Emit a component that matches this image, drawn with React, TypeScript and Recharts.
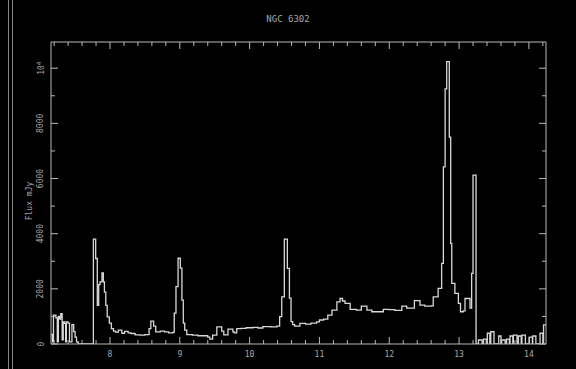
import { Line, LineChart, XAxis, YAxis } from "recharts";

// NGC 6302 spectrum, wavelength (um) vs flux (mJy)
const blueEdgeNoise: [number, number][] = [
  [7.155, 350], [7.175, 80], [7.19, 1050], [7.225, 950], [7.245, 80],
  [7.26, 1000], [7.28, 900], [7.295, 1100], [7.315, 150], [7.33, 800],
  [7.35, 750], [7.365, 80], [7.375, 800], [7.4, 760], [7.42, 80],
  [7.455, 700], [7.48, 450], [7.5, 250], [7.52, 80], [7.545, 0],
];

const lines77to9: [number, number][] = [
  [7.762, 3800], [7.795, 3100], [7.818, 1400], [7.838, 2150], [7.857, 2250],
  [7.885, 2580], [7.905, 2250], [7.92, 1880], [7.94, 1400], [7.96, 980],
  [7.99, 760], [8.02, 560], [8.05, 470], [8.08, 430], [8.12, 500],
  [8.17, 390], [8.21, 460], [8.26, 400], [8.3, 380], [8.36, 330],
  [8.43, 320], [8.5, 340], [8.56, 560], [8.585, 830], [8.625, 650],
  [8.655, 440], [8.72, 470], [8.78, 440], [8.84, 400], [8.9, 420],
  [8.92, 1120], [8.945, 2080], [8.975, 3110], [9.007, 2750], [9.03, 1590],
  [9.05, 760], [9.07, 500], [9.1, 340], [9.18, 320], [9.26, 300],
  [9.34, 300], [9.4, 250], [9.43, 180], [9.47, 320], [9.53, 620],
  [9.6, 470], [9.63, 330], [9.69, 540], [9.76, 440], [9.78, 400],
];

const lines10to12: [number, number][] = [
  [9.815, 560], [9.88, 570], [9.95, 590], [10.05, 600], [10.12, 580],
  [10.19, 630], [10.3, 620], [10.39, 650], [10.43, 990], [10.46, 1710],
  [10.497, 3800], [10.54, 2740], [10.57, 1665], [10.593, 810], [10.617, 700],
  [10.645, 650], [10.72, 750], [10.8, 720], [10.88, 760], [10.96, 800],
  [11.0, 870], [11.06, 900], [11.12, 1050], [11.18, 1230], [11.25, 1530],
  [11.295, 1650], [11.33, 1560], [11.367, 1470], [11.44, 1255], [11.53, 1230],
  [11.6, 1375], [11.68, 1230], [11.75, 1170], [11.84, 1170], [11.915, 1255],
  [11.99, 1250], [12.08, 1220], [12.18, 1375], [12.25, 1300], [12.36, 1570],
  [12.44, 1410], [12.51, 1375], [12.6, 1380],
];

const neonLines: [number, number][] = [
  [12.63, 1710], [12.7, 2015], [12.75, 2920], [12.775, 6420], [12.8, 9250],
  [12.823, 10240], [12.86, 7500], [12.88, 3645], [12.895, 2200], [12.94, 1835],
  [12.99, 1470], [13.02, 1170], [13.06, 1200], [13.085, 1650], [13.157, 1300],
  [13.18, 2560], [13.2, 6120], [13.243, 0],
];

const redEdgeNoise: [number, number][] = [
  [13.277, 145], [13.33, 0], [13.35, 180], [13.39, 0], [13.405, 390],
  [13.44, 0], [13.454, 445], [13.5, 0], [13.568, 290], [13.6, 0],
  [13.61, 145], [13.66, 0], [13.68, 180], [13.72, 0], [13.73, 290],
  [13.77, 0], [13.778, 325], [13.83, 0], [13.85, 290], [13.89, 0],
  [13.9, 325], [13.95, 0], [14.007, 250], [14.05, 0], [14.055, 290],
  [14.1, 0], [14.16, 390], [14.2, 0], [14.21, 690], [14.245, 690],
];

const xMajor = [8, 9, 10, 11, 12, 13, 14];
const xTicks = Array.from({ length: 36 }, (_, i) => +(7.2 + i * 0.2).toFixed(1));
const yTicks = [0, 1000, 2000, 3000, 4000, 5000, 6000, 7000, 8000, 9000, 10000];
const yLabelled = [0, 2000, 4000, 6000, 8000, 10000];

const data = [...blueEdgeNoise, ...lines77to9, ...lines10to12, ...neonLines, ...redEdgeNoise].map(
  ([w, f]) => ({ w, f })
);

const AXIS = "#b8b8b8";
const TEXT = "#a8a8a8";
const FONT = "'DejaVu Sans Mono', monospace";

const isMajorX = (v: number) => xMajor.some(m => Math.abs(m - v) < 1e-6);

const BottomTick = ({ x, y, payload }: any) => {
  const major = isMajorX(payload.value);
  return (
    <g>
      <line x1={x} y1={y} x2={x} y2={y - (major ? 7 : 4)} stroke={AXIS} />
      {major && (
        <text x={x} y={y + 13} textAnchor="middle" fill={TEXT} fontSize={8} fontFamily={FONT}>
          {Math.round(payload.value)}
        </text>
      )}
    </g>
  );
};

const TopTick = ({ x, y, payload }: any) => {
  const major = isMajorX(payload.value);
  return <line x1={x} y1={y} x2={x} y2={y + (major ? 7 : 4)} stroke={AXIS} />;
};

const LeftTick = ({ x, y, payload }: any) => {
  const v = payload.value;
  const labelled = yLabelled.includes(v);
  const tx = x - 10;
  return (
    <g>
      <line x1={x} y1={y} x2={x + (labelled ? 7 : 4)} y2={y} stroke={AXIS} />
      {labelled && (
        <text
          x={tx}
          y={y}
          transform={`rotate(-90, ${tx}, ${y})`}
          textAnchor="middle"
          dominantBaseline="central"
          fill={TEXT}
          fontSize={8}
          fontFamily={FONT}
        >
          {v === 10000 ? (
            <>
              <tspan>10</tspan>
              <tspan dy={-3} fontSize={6}>4</tspan>
            </>
          ) : (
            v
          )}
        </text>
      )}
    </g>
  );
};

const RightTick = ({ x, y, payload }: any) => {
  const labelled = yLabelled.includes(payload.value);
  return <line x1={x} y1={y} x2={x - (labelled ? 7 : 4)} y2={y} stroke={AXIS} />;
};

const FluxLabel = ({ viewBox }: any) => {
  const lx = viewBox.x + 18;
  const ly = viewBox.y + viewBox.height / 2 + 8;
  return (
    <text
      x={lx}
      y={ly}
      transform={`rotate(-90, ${lx}, ${ly})`}
      textAnchor="middle"
      dominantBaseline="central"
      fill={TEXT}
      fontSize={8}
      fontFamily={FONT}
    >
      Flux  mJy
    </text>
  );
};

export default function App() {
  return (
    <div style={{ position: "absolute", left: 0, top: 0, width: 576, height: 369, background: "#000" }}>
      <div style={{ position: "absolute", left: 8, top: 0, width: 1, height: 369, background: "#888" }} />
      <div style={{ position: "absolute", left: 12, top: 0, width: 1, height: 369, background: "#888" }} />
      <div
        style={{
          position: "absolute",
          left: 0,
          width: 576,
          top: 14,
          textAlign: "center",
          color: TEXT,
          fontSize: 9,
          fontFamily: FONT,
        }}
      >
        NGC 6302
      </div>
      <LineChart
        width={576}
        height={369}
        data={data}
        margin={{ top: 41, right: 29, bottom: 0, left: 11 }}
        style={{ position: "absolute", left: 0, top: 0 }}
      >
        <XAxis
          xAxisId="bottom"
          dataKey="w"
          type="number"
          domain={[7.155, 14.245]}
          allowDataOverflow
          ticks={xTicks}
          interval={0}
          height={25}
          tickSize={0}
          tickMargin={0}
          tickLine={false}
          axisLine={{ stroke: AXIS }}
          tick={<BottomTick />}
        />
        <XAxis
          xAxisId="top"
          orientation="top"
          dataKey="w"
          type="number"
          domain={[7.155, 14.245]}
          allowDataOverflow
          ticks={xTicks}
          interval={0}
          height={1}
          tickSize={0}
          tickMargin={0}
          tickLine={false}
          axisLine={{ stroke: AXIS }}
          tick={<TopTick />}
        />
        <YAxis
          yAxisId="left"
          type="number"
          domain={[0, 10950]}
          allowDataOverflow
          ticks={yTicks}
          interval={0}
          width={40}
          tickSize={0}
          tickMargin={0}
          tickLine={false}
          axisLine={{ stroke: AXIS }}
          tick={<LeftTick />}
          label={{ value: "Flux  mJy", content: <FluxLabel /> }}
        />
        <YAxis
          yAxisId="right"
          orientation="right"
          type="number"
          domain={[0, 10950]}
          allowDataOverflow
          ticks={yTicks}
          interval={0}
          width={1}
          tickSize={0}
          tickMargin={0}
          tickLine={false}
          axisLine={{ stroke: AXIS }}
          tick={<RightTick />}
        />
        <Line
          xAxisId="bottom"
          yAxisId="left"
          dataKey="f"
          type="stepAfter"
          stroke="#d8d8d8"
          strokeWidth={1.3}
          dot={false}
          isAnimationActive={false}
        />
        <Line
          xAxisId="top"
          yAxisId="right"
          dataKey="f"
          type="stepAfter"
          stroke="none"
          dot={false}
          isAnimationActive={false}
        />
      </LineChart>
    </div>
  );
}
